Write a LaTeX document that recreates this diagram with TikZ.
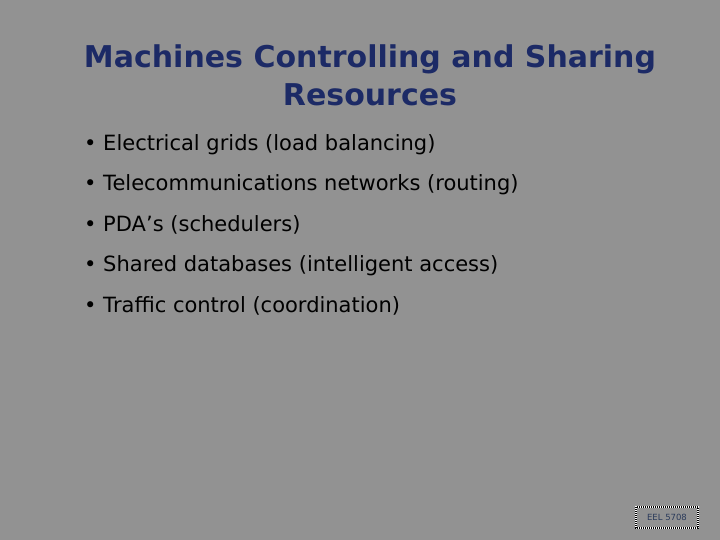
\documentclass[tikz,border=0pt]{standalone}
\usepackage{fontspec}
\setmainfont{DejaVu Sans}
\definecolor{bg}{HTML}{929292}
\definecolor{ttl}{HTML}{1C2A66}
\definecolor{lab}{HTML}{2A3A5A}
\begin{document}
\begin{tikzpicture}[x=1pt,y=-1pt,
  item/.style={anchor=west,font=\fontsize{21}{24}\selectfont,inner sep=0}]
\fill[bg] (0,0) rectangle (720,540);
\useasboundingbox (0,0) rectangle (720,540);
\node[text=ttl,align=center,font=\fontsize{30}{38}\selectfont\bfseries] (title) at (370,75) {Machines Controlling and Sharing\\Resources};
\node[item] (i1) at (84,145) {• Electrical grids (load balancing)};
\node[item] (i2) at (84,185) {• Telecommunications networks (routing)};
\node[item] (i3) at (84,225) {• PDA’s (schedulers)};
\node[item] (i4) at (84,266) {• Shared databases (intelligent access)};
\node[item] (i5) at (84,306) {• Traffic control (coordination)};
\draw[white,line width=2] (636,507) rectangle (698,528);
\draw[black,line width=2,dash pattern=on 1pt off 1pt] (636,507) rectangle (698,528);
\node[text=lab,font=\fontsize{8.5}{10}\selectfont] (lbl) at (667,517.5) {EEL 5708};
\end{tikzpicture}
\end{document}
